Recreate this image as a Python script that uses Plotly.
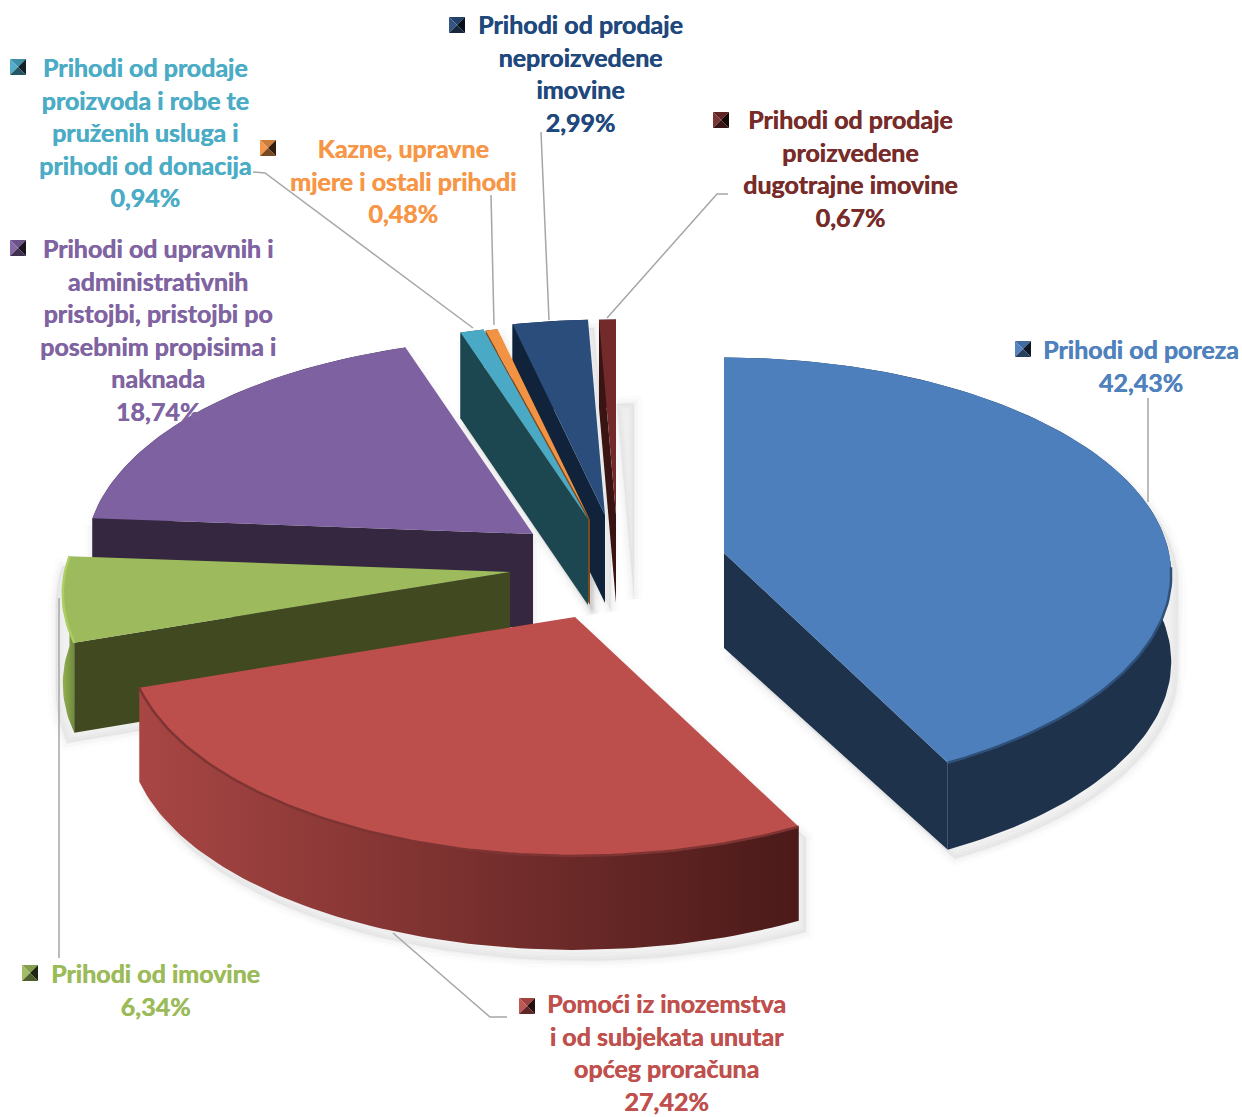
import math
import plotly.graph_objects as go

# ---- data ----
categories = [
    "Prihodi od poreza",
    "Pomoći iz inozemstva<br>i od subjekata unutar<br>općeg proračuna",
    "Prihodi od imovine",
    "Prihodi od upravnih i<br>administrativnih<br>pristojbi, pristojbi po<br>posebnim propisima i<br>naknada",
    "Prihodi od prodaje<br>proizvoda i robe te<br>pruženih usluga i<br>prihodi od donacija",
    "Kazne, upravne<br>mjere i ostali prihodi",
    "Prihodi od prodaje<br>neproizvedene<br>imovine",
    "Prihodi od prodaje<br>proizvedene<br>dugotrajne imovine",
]
values = [42.43, 27.42, 6.34, 18.74, 0.94, 0.48, 2.99, 0.67]

# ---- styling / layout ----
top_colors = ["#4c7fbb", "#bc4e4b", "#9dbb5c", "#7e61a0", "#4aa9c4", "#f29243", "#2a4d7c", "#722a2a"]
side_colors = ["#1e324c", "#4a1c1a", "#40491f", "#35273f", "#1c4650", "#7c4a1e", "#10233b", "#3a1412"]
text_colors = ["#4f81bd", "#c0504d", "#9bbb59", "#8064a2", "#4bacc6", "#f79646", "#1f497d", "#772c2a"]
rim_gradients = [None, ("#a84644", "#4a1a19"), ("#92b052", "#6f8a3c"), None, None, None, None, None]
edge_colors = ["#2f5079", "#7d3432", "#abcf63", None, None, None, None, None]
apex = [(724, 553), (575, 617), (510, 572), (533, 534), (588, 519), (590, 520), (605, 515), (616, 515)]
depth_apex = [95, 94, 88, 94, 86, 85, 88, 88]
depth_rim = [87, 94, 90, 94, 86, 85, 88, 88]
label_pos = [(1141, 365), (666, 1052), (155, 989), (158, 329.5), (145, 131.5), (403, 180), (580, 73), (850, 168)]
key_pos = [(1023, 349), (527, 1006), (30, 973), (18, 248), (18, 67), (268, 148), (457, 25), (721, 120)]
leaders = [
    [(1148, 398), (1148, 502)],
    [(393, 933), (490, 1017), (507, 1017)],
    [(59, 598), (59, 958)],
    None,
    [(253, 172), (265, 173), (473, 328)],
    [(491, 195), (494, 325)],
    [(541, 132), (549, 320)],
    [(728, 194), (717, 194), (607, 318)],
]
draw_order = [7, 6, 5, 4, 3, 2, 1, 0]
shadow_offset = [(7, 9), (7, 11), (-7, 10), (0, 6), (4, 8), (4, 8), (6, 8), (18, 84)]
shadow_solid = [True, True, True, True, True, True, True, False]
A, B, P = 445.0, 215.0, 0.10


def project(i, theta):
    u, v = math.sin(theta), -math.cos(theta)
    s = 1 / (1 - P * v)
    return apex[i][0] + A * u * s, apex[i][1] + B * v * s


def mix(c1, c2, t):
    a = [int(c1[k:k + 2], 16) for k in (1, 3, 5)]
    b = [int(c2[k:k + 2], 16) for k in (1, 3, 5)]
    return "#" + "".join(f"{round(x + (y - x) * t):02x}" for x, y in zip(a, b))


def hull(points):
    pts = sorted(set(points))
    def half(seq):
        out = []
        for p in seq:
            while len(out) > 1 and (out[-1][0] - out[-2][0]) * (p[1] - out[-2][1]) - (out[-1][1] - out[-2][1]) * (p[0] - out[-2][0]) <= 0:
                out.pop()
            out.append(p)
        return out[:-1]
    return half(pts) + half(pts[::-1])


total = sum(values)
starts, cum = [], 0.0
for v in values:
    starts.append(cum)
    cum += v

fig = go.Figure()


def poly(xs, ys, color, line=None, lw=0):
    fig.add_trace(go.Scatter(
        x=xs, y=ys, mode="lines", fill="toself", fillcolor=color,
        line=dict(color=line or color, width=lw), hoverinfo="skip", showlegend=False))


def angles(i):
    return starts[i] / total * 2 * math.pi, (starts[i] + values[i]) / total * 2 * math.pi


def arc(i):
    t0, t1 = angles(i)
    n = max(4, int(values[i] * 3))
    return [project(i, t0 + (t1 - t0) * k / n) for k in range(n + 1)]


# soft drop shadows
for i in draw_order:
    a = arc(i)
    dx, dy = shadow_offset[i]
    pts = a + [apex[i]]
    if shadow_solid[i]:
        pts = pts + [(p[0], p[1] + depth_rim[i]) for p in a] + [(apex[i][0], apex[i][1] + depth_apex[i])]
    h = hull(pts)
    h = h + h[:1]
    xs = [p[0] + dx for p in h]
    ys = [p[1] + dy for p in h]
    for w, col in ((16, "rgba(0,0,0,0.012)"), (9, "rgba(0,0,0,0.018)"), (3, "rgba(0,0,0,0.025)")):
        poly(xs, ys, col, line=col, lw=w)

# extruded slices, back to front
for i in draw_order:
    a = arc(i)
    ax, ay = apex[i]
    t0, t1 = angles(i)
    # rim
    xs = [p[0] for p in a] + [p[0] for p in reversed(a)] + [a[0][0]]
    ys = [p[1] for p in a] + [p[1] + depth_rim[i] for p in reversed(a)] + [a[0][1]]
    if rim_gradients[i]:
        c0, c1 = rim_gradients[i]
        fig.add_trace(go.Scatter(
            x=xs, y=ys, mode="lines", fill="toself",
            fillgradient=dict(type="horizontal", colorscale=[[0, c0], [1, c1]]),
            line=dict(width=0), hoverinfo="skip", showlegend=False))
    else:
        poly(xs, ys, side_colors[i])
    # cut faces that look towards the viewer
    if math.sin(t0) < 0:
        p = a[0]
        poly([ax, p[0], p[0], ax], [ay, p[1], p[1] + depth_rim[i], ay + depth_apex[i]], side_colors[i])
    if math.sin(t1) > 0:
        p = a[-1]
        poly([ax, p[0], p[0], ax], [ay, p[1], p[1] + depth_rim[i], ay + depth_apex[i]], side_colors[i])
    # top surface
    poly([ax] + [p[0] for p in a] + [ax], [ay] + [p[1] for p in a] + [ay], top_colors[i])
    # soft edge between top and rim
    if edge_colors[i]:
        vis = [p for p in a if p[1] > ay + 10 or i == 2]
        fig.add_trace(go.Scatter(
            x=[p[0] for p in vis], y=[p[1] for p in vis], mode="lines",
            line=dict(color=edge_colors[i], width=2.5),
            hoverinfo="skip", showlegend=False))

# leader lines
for seg in leaders:
    if seg:
        fig.add_trace(go.Scatter(
            x=[p[0] for p in seg], y=[p[1] for p in seg], mode="lines",
            line=dict(color="#a6a6a6", width=1.5), hoverinfo="skip", showlegend=False))

# labels
annotations = []
for i, cat in enumerate(categories):
    pct = f"{values[i]:.2f}".replace(".", ",") + "%"
    annotations.append(dict(
        x=label_pos[i][0], y=label_pos[i][1], xref="x", yref="y",
        text=f"{cat}<br>{pct}", showarrow=False, align="center",
        xanchor="center", yanchor="middle",
        font=dict(family="Lato", size=25, color=text_colors[i], weight=700,
                  shadow=f"0.5px 0 0 {text_colors[i]}")))

# bevelled legend keys
shapes = []
for i, (kx, ky) in enumerate(key_pos):
    r = 8
    c = (kx, ky)
    tl, tr, bl, br = (kx - r, ky - r), (kx + r, ky - r), (kx - r, ky + r), (kx + r, ky + r)
    base = top_colors[i]
    tris = [
        (tl, tr, mix(base, "#000000", 0.15)),
        (tl, bl, mix(base, "#ffffff", 0.05)),
        (tr, br, mix(base, "#000000", 0.8)),
        (bl, br, mix(base, "#000000", 0.5)),
    ]
    for p, q, col in tris:
        shapes.append(dict(
            type="path", xref="x", yref="y",
            path=f"M{p[0]},{p[1]} L{q[0]},{q[1]} L{c[0]},{c[1]} Z",
            fillcolor=col, line=dict(width=0)))

fig.update_layout(
    width=1242, height=1117, margin=dict(l=0, r=0, t=0, b=0),
    paper_bgcolor="white", plot_bgcolor="white", showlegend=False,
    xaxis=dict(range=[0, 1242], visible=False, fixedrange=True),
    yaxis=dict(range=[1117, 0], visible=False, fixedrange=True),
    annotations=annotations, shapes=shapes,
)
fig.write_html("out.html", config=dict(displayModeBar=False),
               post_script="document.body.style.margin='0';document.documentElement.style.overflow='hidden';")
